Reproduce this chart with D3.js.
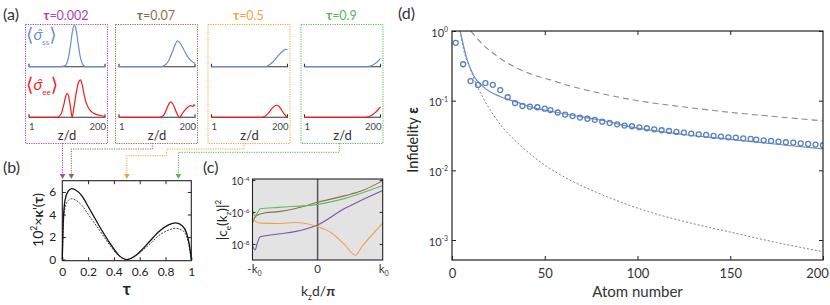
<!DOCTYPE html>
<html>
<head>
<meta charset="utf-8">
<script src="https://d3js.org/d3.v7.min.js"></script>
<style>
body { margin: 0; background: #fff; }
text { font-family: Lato, "Open Sans", sans-serif; }
</style>
</head>
<body>
<div id="fig"></div>
<script>
// ---------- panel (a): snapshots along the chain (z/d = 1..200) ----------
var tauLabels = ["0.002", "0.07", "0.5", "0.9"];
var tauValues = [0.002, 0.07, 0.5, 0.9];

var ss0 = [[1,0],[80,0],[95,0.02],[100,0.085],[105,0.25],[110,0.54],[115,0.86],[120,1],[125,0.86],[130,0.54],[135,0.25],[140,0.09],[145,0.025],[152,0],[200,0]];
var ss1 = [[1,0],[112,0],[120,0.03],[130,0.13],[140,0.34],[148,0.53],[154,0.62],[160,0.58],[170,0.42],[180,0.25],[190,0.14],[200,0.08]];
var ss2 = [[1,0],[140,0],[150,0.03],[160,0.1],[170,0.2],[180,0.31],[190,0.39],[195,0.42],[200,0.41]];
var ss3 = [[1,0],[165,0],[175,0.02],[185,0.07],[192,0.12],[200,0.2]];

var ee0 = [[1,0],[75,0],[85,0.08],[92,0.3],[97,0.5],[101,0.58],[105,0.5],[110,0.22],[114,0],[118,0.2],[124,0.55],[130,0.82],[136,0.9],[141,0.75],[146,0.52],[151,0.34],[160,0.18],[170,0.1],[185,0.05],[200,0.02]];
var ee1 = [[1,0],[108,0],[118,0.05],[126,0.2],[132,0.33],[137,0.37],[142,0.32],[150,0.15],[156,0.03],[160,0],[166,0.08],[174,0.18],[182,0.25],[188,0.28],[194,0.26],[197,0.3],[200,0.28]];
var ee2 = [[1,0],[132,0],[140,0.02],[150,0.1],[160,0.22],[167,0.28],[172,0.29],[178,0.26],[185,0.17],[192,0.07],[200,0]];
var ee3 = [[1,0],[160,0],[170,0.02],[180,0.07],[188,0.13],[195,0.2],[200,0.25]];

var ssCurves = [ss0, ss1, ss2, ss3];
var eeCurves = [ee0, ee1, ee2, ee3];

// ---------- panel (b): 10^2 x kappa'(tau) ----------
var kappaSolid = [[0,0],[0.008,3.5],[0.021,5.26],[0.047,6.09],[0.073,6.3],[0.1,6.2],[0.152,5.65],[0.205,4.62],[0.283,3.05],[0.362,1.58],[0.441,0.35],[0.5,0],[0.56,0.3],[0.62,0.9],[0.68,1.65],[0.75,2.5],[0.82,3.05],[0.88,3.25],[0.93,3.0],[0.965,2.3],[0.985,1.3],[1,0]];
var kappaDashed = [[0,0],[0.008,3.0],[0.021,4.6],[0.047,5.25],[0.073,5.4],[0.1,5.3],[0.152,4.8],[0.205,3.95],[0.283,2.7],[0.362,1.38],[0.441,0.3],[0.5,0],[0.56,0.25],[0.62,0.8],[0.68,1.4],[0.75,2.15],[0.82,2.6],[0.88,2.78],[0.93,2.6],[0.965,2.0],[0.985,1.1],[1,0]];
var kappaTicksX = [0, 0.2, 0.4, 0.6, 0.8, 1];
var kappaTicksY = [0, 2, 4, 6];

// ---------- panel (c): |c_e(k_z)|^2, k_z in units of k0 ----------
var ckBrown  = [[-1,2.0e-7],[-0.98,3.5e-7],[-0.93,6.3e-7],[-0.8,8.9e-7],[-0.6,1.05e-6],[-0.35,1.6e-6],[0,4.0e-6],[0.42,1.05e-5],[0.68,2.1e-5],[1,9.1e-5]];
var ckGreen  = [[-1,1.26e-6],[-0.96,5.6e-7],[-0.88,1.6e-6],[-0.6,1.95e-6],[0,3.0e-6],[0.42,7.1e-6],[1,4.5e-5]];
var ckOrange = [[-1,3.5e-7],[-0.88,2.0e-7],[-0.6,1.9e-7],[-0.35,2.2e-7],[0,1.2e-7],[0.22,4.7e-8],[0.42,8.7e-9],[0.58,2.0e-9],[0.68,6.8e-9],[1,2.0e-7]];
var ckPurple = [[-1,7.9e-9],[-0.96,4.2e-9],[-0.93,1.0e-8],[-0.88,2.8e-8],[-0.6,4.2e-8],[-0.35,5.9e-8],[0,1.55e-7],[0.42,1.7e-6],[0.68,5.6e-6],[1,2.2e-5]];
var ckCurves = [ckPurple, ckBrown, ckOrange, ckGreen];
var ckTicksY = [-4, -6, -8];

// ---------- panel (d): infidelity vs atom number ----------
var atomN = [2,6,10,14,18,22,26,30,34,38,42,46,50,53,57,61,65,69,73,77,81,85,89,93,97,101,105,109,113,117,121,125,129,133,137,141,145,149,153,157,161,164,168,172,176,180,184,188,192,196,200];
var infidPoints = [0.676,0.333,0.191,0.168,0.179,0.169,0.142,0.112,0.0923,0.0839,0.082,0.0804,0.0767,0.0733,0.0676,0.0631,0.06,0.0571,0.055,0.0531,0.05,0.0479,0.0458,0.0439,0.0429,0.0415,0.0402,0.0388,0.0376,0.0367,0.0356,0.0348,0.0337,0.0329,0.0322,0.0312,0.0305,0.0298,0.0295,0.0288,0.0282,0.0276,0.027,0.0264,0.0258,0.0253,0.025,0.0244,0.0239,0.0234,0.0229];
var infidSolid  = [[4.4,1.0],[6.1,0.631],[7.9,0.407],[11.5,0.234],[16.9,0.158],[25.9,0.115],[34.9,0.0955],[43.8,0.0794],[52.8,0.0708],[61.8,0.0638],[79.8,0.0528],[100,0.0403],[125,0.0327],[150,0.0279],[175,0.0237],[200,0.0203]];
var infidDashed = [[10.1,1.0],[16.9,0.631],[25.9,0.407],[34.9,0.295],[43.8,0.234],[52.8,0.2],[61.8,0.168],[79.8,0.128],[100,0.1],[125,0.0813],[150,0.068],[175,0.0589],[200,0.0513]];
var infidDotted = [[4.4,1.0],[6.1,0.562],[9.7,0.292],[13.3,0.168],[16.9,0.108],[22.3,0.0624],[27.7,0.0402],[33.1,0.0283],[38.4,0.0209],[51,0.0114],[61.8,0.0077],[79.8,0.0046],[105,0.0026],[125,0.00185],[150,0.0013],[175,0.00092],[200,0.00068]];
var atomTicks = [0, 50, 100, 150, 200];
var infidTicks = [0, -1, -2, -3];

// ---------- helpers ----------
var tauColors = ["#a546b6", "#8d6d50", "#f5a23c", "#55b955"];
var curveColors = ["#7b55a9", "#8d6d50", "#f0a04a", "#5cbd5c"];

var svg = d3.select("#fig").append("svg").attr("width", 830).attr("height", 305);

// text made of parts: {t, sup, sub, b, i, size, fam}
function rich(g, x, y, parts, size, anchor, color) {
  var t = g.append("text").attr("x", x).attr("y", y)
    .attr("font-size", size).attr("text-anchor", anchor || "start")
    .attr("fill", color || "#222");
  var cur = 0;
  parts.forEach(function(p) {
    var shift = p.sup ? -size * 0.42 : (p.sub ? size * 0.28 : 0);
    if (p.shift !== undefined) shift = p.shift;
    var s = t.append("tspan").text(p.t).attr("dy", shift - cur);
    cur = shift;
    if (p.sup || p.sub) s.attr("font-size", size * 0.62);
    if (p.size) s.attr("font-size", p.size);
    if (p.fam) s.attr("font-family", p.fam);
    if (p.b) s.attr("font-weight", "bold");
    if (p.i) s.attr("font-style", "italic");
  });
  return t;
}
function rotated(x, y, parts, size) {
  var g = svg.append("g").attr("transform", "translate(" + x + "," + y + ") rotate(-90)");
  rich(g, 0, 0, parts, size, "middle");
}
function styleAxis(g, size) {
  g.select(".domain").remove();
  g.selectAll(".tick line").attr("stroke", "#222");
  g.selectAll("text").attr("font-size", size).attr("fill", "#222")
    .attr("font-family", "Lato, 'Open Sans', sans-serif");
}

// panel letters
rich(svg, 3, 20, [{t: "(a)"}], 16, "start", "#333");
rich(svg, 3, 173, [{t: "(b)"}], 16, "start", "#333");
rich(svg, 203, 173, [{t: "(c)"}], 16, "start", "#333");
rich(svg, 398, 19, [{t: "(d)"}], 16, "start", "#333");

// ---------- draw (a) ----------
var boxLeft = [25, 115, 207.5, 300.5], boxW = 82, boxTop = 24, boxBot = 143;
var upBase = 66.7, lowBase = 117.3, amp = 41.5;

tauLabels.forEach(function(lab, i) {
  var x0 = boxLeft[i];
  svg.append("rect").attr("x", x0 + 0.5).attr("y", boxTop + 0.5)
    .attr("width", boxW).attr("height", boxBot - boxTop)
    .attr("fill", "none").attr("stroke", tauColors[i]).attr("stroke-width", 1)
    .attr("stroke-dasharray", "1.2,1.2");
  rich(svg, x0 + boxW / 2, 19.5, [{t: "τ", b: true}, {t: "=" + lab}], 12.5, "middle", tauColors[i]);

  var axL = x0 + 4, axR = x0 + 80;
  var zx = d3.scaleLinear().domain([1, 200]).range([axL, axR]);
  var yU = d3.scaleLinear().domain([0, 1]).range([upBase, upBase - amp]);
  var yL = d3.scaleLinear().domain([0, 1]).range([lowBase, lowBase - amp]);

  [upBase, lowBase].forEach(function(b) {
    svg.append("path").attr("d", "M" + axL + "," + (b - 3) + "V" + b + "H" + axR + "V" + (b - 3))
      .attr("fill", "none").attr("stroke", "#333").attr("stroke-width", 1.1);
  });
  svg.append("path").datum(ssCurves[i])
    .attr("d", d3.line().x(function(d) { return zx(d[0]); }).y(function(d) { return yU(d[1]); }).curve(d3.curveMonotoneX))
    .attr("fill", "none").attr("stroke", "#6b8ecb").attr("stroke-width", 1.2);
  svg.append("path").datum(eeCurves[i])
    .attr("d", d3.line().x(function(d) { return zx(d[0]); }).y(function(d) { return yL(d[1]); }).curve(d3.curveMonotoneX))
    .attr("fill", "none").attr("stroke", "#f21a1a").attr("stroke-width", 1.2);

  rich(svg, axL, 130, [{t: "1"}], 9.5, "start", "#444");
  rich(svg, axR + 1, 130, [{t: "200"}], 9.5, "end", "#444");
  rich(svg, (axL + axR) / 2, 140, [{t: "z/d"}], 13, "middle", "#333");
});

// bracket labels in the first box, one text each
function braket(y, sub, color) {
  rich(svg, 26, y, [
    {t: "⟨", size: 19, fam: "DejaVu Sans", shift: 0},
    {t: "σ\u0302", i: true, size: 16, shift: -1},
    {t: sub, size: 8, shift: 4},
    {t: "⟩", size: 19, fam: "DejaVu Sans", shift: 0}
  ], 16, "start", color);
}
braket(41, "ss", "#6b8ecb");
braket(91, "ee", "#f21a1a");

// ---------- draw (b) ----------
var bx = d3.scaleLinear().domain([0, 1]).range([62.3, 191.3]);
var by = d3.scaleLinear().domain([-0.1, 7]).range([260.7, 180.7]);

// connectors from the boxes to the tau arrows
var arrowTip = 179;
var routes = [
  [[bx(tauValues[0]), boxBot], [bx(tauValues[0]), arrowTip - 4]],
  [[152.3, boxBot], [152.3, 149], [bx(tauValues[1]), 149], [bx(tauValues[1]), arrowTip - 4]],
  [[244, boxBot], [244, 149], [166.7, 149], [166.7, 155.7], [bx(tauValues[2]), 155.7], [bx(tauValues[2]), arrowTip - 4]],
  [[339.3, boxBot], [339.3, 152.3], [bx(tauValues[3]), 152.3], [bx(tauValues[3]), arrowTip - 4]]
];
routes.forEach(function(r, i) {
  svg.append("path").attr("d", d3.line()(r)).attr("fill", "none")
    .attr("stroke", tauColors[i]).attr("stroke-width", 1).attr("stroke-dasharray", "1.2,1.2");
  var ax = bx(tauValues[i]);
  svg.append("path").attr("d", "M" + (ax - 2.8) + "," + (arrowTip - 5) + "L" + (ax + 2.8) + "," + (arrowTip - 5) + "L" + ax + "," + arrowTip + "Z")
    .attr("fill", tauColors[i]);
});

svg.append("rect").attr("x", 62.3).attr("y", 180.7).attr("width", 129).attr("height", 80)
  .attr("fill", "none").attr("stroke", "#222").attr("stroke-width", 1.1);
svg.append("g").attr("transform", "translate(0,260.7)")
  .call(d3.axisBottom(bx).tickValues(kappaTicksX).tickSize(-3.5).tickPadding(7).tickFormat(d3.format("~g")))
  .call(function(g) { styleAxis(g, 12); });
svg.append("g").attr("transform", "translate(0,180.7)")
  .call(d3.axisTop(bx).tickValues(kappaTicksX.slice(1, 5)).tickSize(-3.5).tickFormat(""))
  .call(function(g) { styleAxis(g, 12); });
svg.append("g").attr("transform", "translate(62.3,0)")
  .call(d3.axisLeft(by).tickValues(kappaTicksY).tickSize(-3.5).tickPadding(6))
  .call(function(g) { styleAxis(g, 12); });
svg.append("g").attr("transform", "translate(191.3,0)")
  .call(d3.axisRight(by).tickValues(kappaTicksY.slice(1)).tickSize(-3.5).tickFormat(""))
  .call(function(g) { styleAxis(g, 12); });

var kLine = d3.line().x(function(d) { return bx(d[0]); }).y(function(d) { return by(d[1]); }).curve(d3.curveMonotoneX);
svg.append("path").datum(kappaDashed).attr("d", kLine).attr("fill", "none")
  .attr("stroke", "#444").attr("stroke-width", 1).attr("stroke-dasharray", "2,1.3");
svg.append("path").datum(kappaSolid).attr("d", kLine).attr("fill", "none")
  .attr("stroke", "#111").attr("stroke-width", 1.3);

rich(svg, 126.8, 295, [{t: "τ", b: true}], 17, "middle", "#222");
rotated(43, 220, [{t: "10"}, {t: "2", sup: true}, {t: "×"}, {t: "κ", b: true}, {t: "'("}, {t: "τ", b: true}, {t: ")"}], 14);

// ---------- draw (c) ----------
var cx = d3.scaleLinear().domain([-1, 1]).range([252.5, 382.7]);
var cy = d3.scaleLog().domain([1e-9, Math.pow(10, -3.94)]).range([260, 179]);

svg.append("defs").append("clipPath").attr("id", "clipC").append("rect")
  .attr("x", 252.5).attr("y", 179).attr("width", 130.2).attr("height", 81);
svg.append("rect").attr("x", 252.5).attr("y", 179).attr("width", 130.2).attr("height", 81)
  .attr("fill", "#e3e3e3");
svg.append("line").attr("x1", cx(0)).attr("x2", cx(0)).attr("y1", 179).attr("y2", 260)
  .attr("stroke", "#555").attr("stroke-width", 1.5);

var cLine = d3.line().x(function(d) { return cx(d[0]); }).y(function(d) { return cy(d[1]); }).curve(d3.curveMonotoneX);
ckCurves.forEach(function(c, i) {
  svg.append("path").datum(c).attr("d", cLine).attr("clip-path", "url(#clipC)")
    .attr("fill", "none").attr("stroke", curveColors[i]).attr("stroke-width", 1.1);
});
svg.append("rect").attr("x", 252.5).attr("y", 179).attr("width", 130.2).attr("height", 81)
  .attr("fill", "none").attr("stroke", "#222").attr("stroke-width", 1.1);
var cDecades = ckTicksY.map(function(e) { return Math.pow(10, e); });
svg.append("g").attr("transform", "translate(252.5,0)")
  .call(d3.axisLeft(cy).tickValues(cDecades).tickSize(-3).tickFormat(""))
  .call(function(g) { styleAxis(g, 10); });
svg.append("g").attr("transform", "translate(382.7,0)")
  .call(d3.axisRight(cy).tickValues(cDecades).tickSize(-3).tickFormat(""))
  .call(function(g) { styleAxis(g, 10); });
ckTicksY.forEach(function(e) {
  rich(svg, 249.5, cy(Math.pow(10, e)) + 5, [{t: "10"}, {t: String(e), sup: true}], 10.5, "end", "#333");
});
rich(svg, cx(-1) + 2, 273, [{t: "-k"}, {t: "0", sub: true}], 11.5, "middle", "#333");
rich(svg, cx(0), 273, [{t: "0"}], 11.5, "middle", "#333");
rich(svg, cx(1) + 1, 273, [{t: "k"}, {t: "0", sub: true}], 11.5, "middle", "#333");
rich(svg, 318, 296, [{t: "k"}, {t: "z", sub: true}, {t: "d/"}, {t: "π", b: true}], 14, "middle", "#333");
rotated(227, 220, [{t: "|c"}, {t: "e", sub: true}, {t: "(k"}, {t: "z", sub: true}, {t: ")|"}, {t: "2", sup: true}], 13.5);

// ---------- draw (d) ----------
var dx = d3.scaleLinear().domain([0, 200]).range([452, 823]);
var dy = d3.scaleLog().domain([Math.pow(10, -3.287), 1]).range([260, 31]);

svg.append("defs").append("clipPath").attr("id", "clipD").append("rect")
  .attr("x", 452).attr("y", 31).attr("width", 371).attr("height", 229);

var dLine = d3.line().x(function(d) { return dx(d[0]); }).y(function(d) { return dy(d[1]); }).curve(d3.curveMonotoneX);
svg.append("path").datum(infidDashed).attr("d", dLine).attr("clip-path", "url(#clipD)")
  .attr("fill", "none").attr("stroke", "#8a8a8a").attr("stroke-width", 1.1).attr("stroke-dasharray", "6,4");
svg.append("path").datum(infidDotted).attr("d", dLine).attr("clip-path", "url(#clipD)")
  .attr("fill", "none").attr("stroke", "#808080").attr("stroke-width", 1).attr("stroke-dasharray", "2,2");
svg.append("path").datum(infidSolid).attr("d", dLine).attr("clip-path", "url(#clipD)")
  .attr("fill", "none").attr("stroke", "#6b8ecb").attr("stroke-width", 1.2);
svg.append("g").attr("clip-path", "url(#clipD)").selectAll("circle").data(atomN).enter()
  .append("circle")
  .attr("cx", function(d) { return dx(d); })
  .attr("cy", function(d, i) { return dy(infidPoints[i]); })
  .attr("r", 2.5).attr("fill", "none").attr("stroke", "#5a7fc0").attr("stroke-width", 1.3);

svg.append("rect").attr("x", 452).attr("y", 31).attr("width", 371).attr("height", 229)
  .attr("fill", "none").attr("stroke", "#222").attr("stroke-width", 1.2);
var dDecades = infidTicks.map(function(e) { return Math.pow(10, e); });
svg.append("g").attr("transform", "translate(0,260)")
  .call(d3.axisBottom(dx).tickValues(atomTicks).tickSize(-4).tickPadding(9).tickFormat(d3.format("d")))
  .call(function(g) {
    styleAxis(g, 13);
    g.selectAll("text").attr("fill", "#333");
    g.selectAll(".tick").filter(function(d) { return d === 200; }).select("text").attr("dx", -6);
  });
svg.append("g").attr("transform", "translate(0,31)")
  .call(d3.axisTop(dx).tickValues(atomTicks.slice(1, 4)).tickSize(-4).tickFormat(""))
  .call(function(g) { styleAxis(g, 13); });
svg.append("g").attr("transform", "translate(452,0)")
  .call(d3.axisLeft(dy).tickValues(dDecades).tickSize(-4).tickFormat(""))
  .call(function(g) { styleAxis(g, 11); });
svg.append("g").attr("transform", "translate(823,0)")
  .call(d3.axisRight(dy).tickValues(dDecades).tickSize(-4).tickFormat(""))
  .call(function(g) { styleAxis(g, 11); });
infidTicks.forEach(function(e) {
  rich(svg, 448, dy(Math.pow(10, e)) + 5.5, [{t: "10"}, {t: String(e), sup: true}], 11, "end", "#333");
});
rich(svg, 637.5, 297, [{t: "Atom number"}], 15, "middle", "#333");
rotated(418, 140, [{t: "Infidelity  "}, {t: "ε", b: true}], 14.5);
</script>
</body>
</html>
